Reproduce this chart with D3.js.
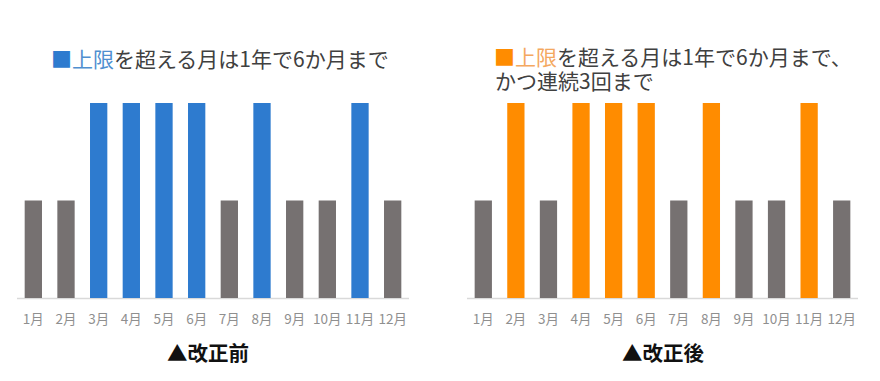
<!DOCTYPE html>
<html><head><meta charset="utf-8">
<script src="https://cdn.jsdelivr.net/npm/d3@7"></script>
<style>body{margin:0;background:#fff;}svg{display:block;font-family:"Noto Sans CJK JP","Noto Sans",sans-serif;}</style>
</head><body>
<svg id="c" width="880" height="381"></svg>
<script>
const months = ["1月","2月","3月","4月","5月","6月","7月","8月","9月","10月","11月","12月"];
const beforeValues = [1,1,2,2,2,2,1,2,1,1,2,1];
const afterValues  = [1,2,1,2,2,2,1,2,1,1,2,1];
const beforeTitle = ["上限","を超える月は1年で6か月まで"];
const afterTitle1 = ["上限","を超える月は1年で6か月まで、"];
const afterTitle2 = "かつ連続3回まで";
const beforeLabel = "▲改正前";
const afterLabel = "▲改正後";

const svg = d3.select("#c");
const baseY = 298, topY = 103;
const y = d3.scaleLinear().domain([0,2]).range([baseY, topY]);

function panel(x0, x1, values, hi) {
  const x = d3.scaleBand().domain(months).range([x0, x1]).paddingInner(0.47).paddingOuter(0.235);
  const g = svg.append("g");
  g.append("line").attr("x1",x0).attr("x2",x1).attr("y1",baseY+0.5).attr("y2",baseY+0.5)
    .attr("stroke","#d9d9d9").attr("stroke-width",1.5);
  g.selectAll("rect").data(values).join("rect")
    .attr("x",(d,i)=>x(months[i])).attr("width",x.bandwidth())
    .attr("y",d=>y(d)).attr("height",d=>baseY-y(d))
    .attr("fill",d=>d===2?hi:"#767171");
  const ax = d3.axisBottom(x).tickSize(0).tickPadding(0);
  const a = g.append("g").attr("transform",`translate(0,${baseY+26})`).call(ax);
  a.select(".domain").remove();
  a.selectAll("text").attr("fill","#8f8f8f").attr("font-size",13.5).attr("dy",0).attr("font-family","\"Noto Sans CJK JP\",sans-serif");
  return x;
}

panel(17, 409, beforeValues, "#2E7BCF");
panel(467, 858, afterValues, "#FF8C00");

function title(x, yy, parts, color, light) {
  const segs = [["■", color], [parts[0], light], [parts[1], "#404040"]];
  let cx = x;
  segs.forEach(([s, c]) => {
    const t = svg.append("text").attr("x", cx).attr("y", yy).attr("font-size", 21).attr("fill", c).text(s);
    cx += t.node().getComputedTextLength();
  });
}
title(51, 67, beforeTitle, "#2E7BCF", "#4F8FD0");
title(494, 65, afterTitle1, "#FF8C00", "#F4A860");
svg.append("text").attr("x",495).attr("y",89).attr("font-size",21).attr("fill","#404040").text(afterTitle2);

svg.append("text").attr("x",208).attr("y",361).attr("text-anchor","middle").attr("font-size",20.5).attr("font-weight","bold").attr("fill","#111").text(beforeLabel);
svg.append("text").attr("x",663).attr("y",361).attr("text-anchor","middle").attr("font-size",20.5).attr("font-weight","bold").attr("fill","#111").text(afterLabel);
</script>
</body></html>
